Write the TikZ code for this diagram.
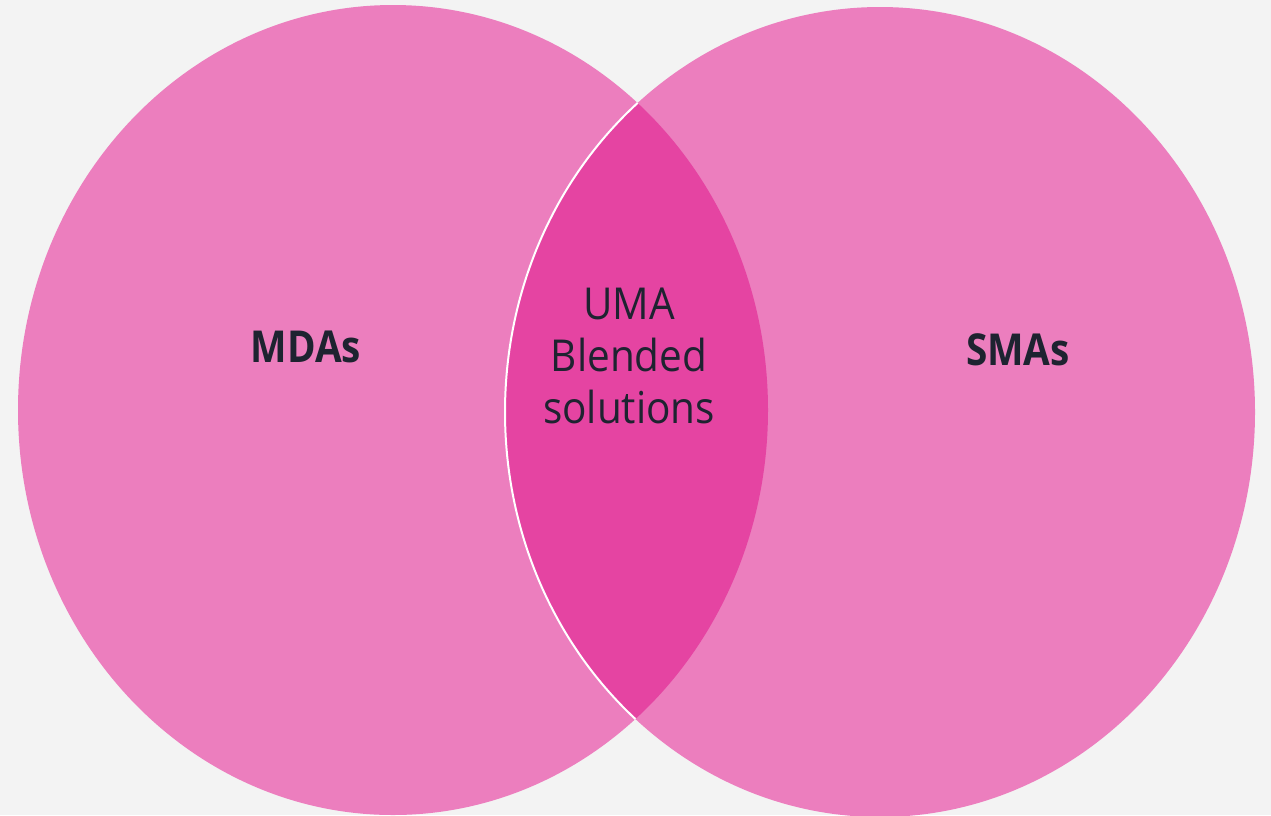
\documentclass[tikz,border=0pt]{standalone}
\usepackage{fontspec}
\setmainfont{Open Sans}
\newfontfamily\setfont[FakeStretch=0.88]{Open Sans Bold}
\newfontfamily\lensfont[FakeStretch=0.92]{Open Sans}
\definecolor{bgc}{HTML}{F3F3F3}
\definecolor{setpink}{HTML}{EC7EBE}
\definecolor{lenspink}{HTML}{E544A2}
\definecolor{inkc}{HTML}{1E2330}
\begin{document}
\begin{tikzpicture}[x=1pt,y=-1pt,
  setlabel/.style={font=\setfont\fontsize{44}{52}\selectfont, text=inkc, inner sep=0pt},
  lenslabel/.style={font=\lensfont\fontsize{44}{52}\selectfont, text=inkc, align=center, inner sep=0pt}]
  % canvas
  \fill[bgc] (0,0) rectangle (1271,815);
  \useasboundingbox (0,0) rectangle (1271,815);
  \clip (0,0) rectangle (1271,815);
  % the two sets
  \fill[setpink] (393,410) ellipse [x radius=375pt, y radius=405pt];
  \fill[setpink] (880,412) ellipse [x radius=375pt, y radius=405pt];
  % overlap
  \begin{scope}
    \clip (393,410) ellipse [x radius=375pt, y radius=405pt];
    \fill[lenspink] (880,412) ellipse [x radius=375pt, y radius=405pt];
    \draw[white, line width=2pt] (880,412) ellipse [x radius=375pt, y radius=405pt];
  \end{scope}
  % labels
  \node[setlabel] (mdas) at (306,347) {MDAs};
  \node[setlabel] (smas) at (1018,350) {SMAs};
  \node[lenslabel] (uma) at (629,356) {UMA\\Blended\\solutions};
\end{tikzpicture}
\end{document}
